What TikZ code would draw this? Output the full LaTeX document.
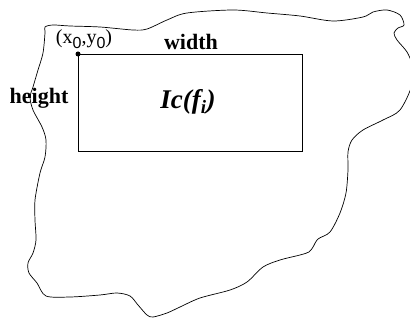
\documentclass[tikz,border=0pt]{standalone}
\usepackage{fontspec}
\setmainfont{Liberation Serif}
\setsansfont{Liberation Sans}
\usepackage{tikz}
\usetikzlibrary{positioning, calc}

\tikzset{
  lbl/.style={inner sep=0pt, font=\fontsize{22}{24}\selectfont\bfseries}
}
\newcommand{\lowzero}{\raisebox{-5pt}{\fontsize{16}{16}\selectfont\sffamily 0}}

\begin{document}
\begin{tikzpicture}[x=1pt, y=-1pt, line width=0.8pt]
  \useasboundingbox (0,0) rectangle (410,320);

  % Region outline
  \draw[line width=0.7pt] plot[smooth cycle, tension=0.5] coordinates {
    (45,27) (53,25) (70,26) (100,27) (133,30) (147,29) (167,20) (187,13)
    (233,10) (267,13) (300,16) (333,21) (363,17) (373,12) (387,10) (400,15)
    (404,25) (398,28) (394,33) (397,40) (407,52) (412,65) (412,85) (400,110)
    (383,120) (363,130) (352,140) (348,152) (348,170) (346,193) (340,213)
    (330,232) (318,239) (313,247) (309,252) (300,255) (280,260) (263,267)
    (247,282) (230,290) (200,298) (180,307) (167,313) (153,317) (147,315)
    (138,305) (130,296) (117,293) (100,295) (70,297) (46,296) (37,283)
    (29,273) (28,263) (33,253) (36,240) (35,220) (35,200) (40,173) (45,157)
    (46,140) (42,127) (33,110) (30,97) (33,87) (38,70) (43,53) (45,33)};

  % Window rectangle
  \coordinate (corner) at (78,54);
  \draw (corner) rectangle (302,151);
  \fill (corner) circle (2.5pt);

  % Labels
  \node[inner sep=0pt, anchor=base, font=\fontsize{20}{22}\selectfont] (origin) at (84,44)
    {(x\lowzero,y\lowzero)};
  \node[lbl, anchor=base] (widthlabel) at (191,50) {width};
  \node[lbl, anchor=base] (heightlabel) at (39,104) {height};
  \node[inner sep=0pt, anchor=base, font=\fontsize{27}{29}\selectfont\bfseries\itshape] (icname) at (188,109)
    {Ic(f\textsubscript{i})};
\end{tikzpicture}
\end{document}
